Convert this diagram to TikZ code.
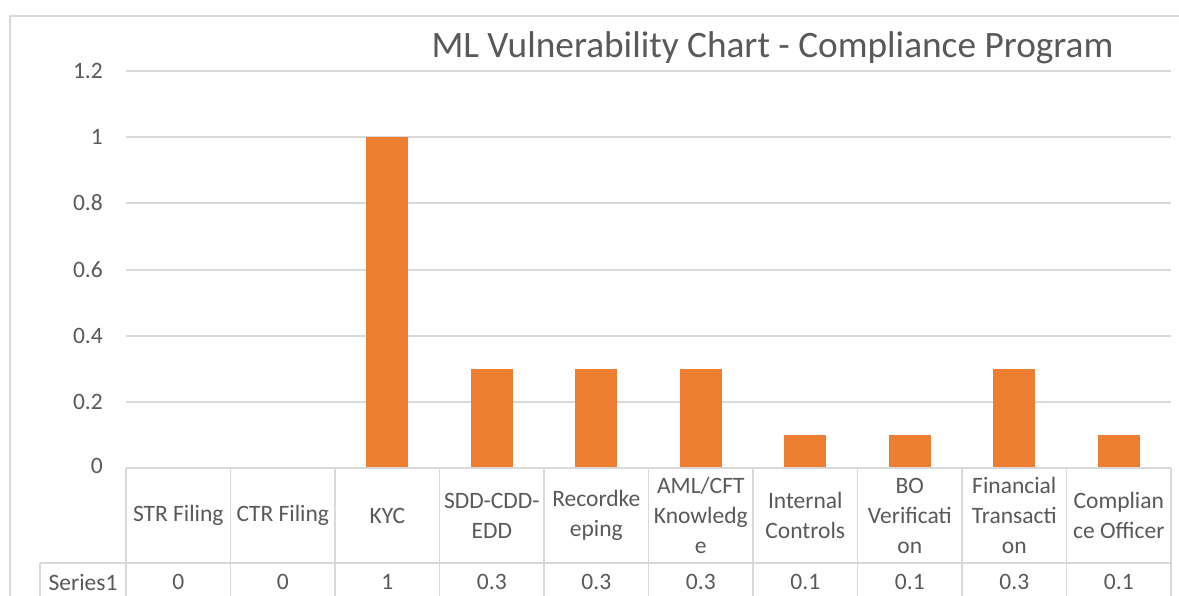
\documentclass[tikz,border=0pt]{standalone}
\usepackage{fontspec}
\setmainfont{Carlito}
\definecolor{gridc}{HTML}{D9D9D9}
\definecolor{txtc}{HTML}{595959}
\definecolor{barc}{HTML}{ED7D31}
\begin{document}
\begin{tikzpicture}[x=1pt,y=-1pt,
  gridline/.style={draw=gridc,line width=1.2pt},
  frameline/.style={draw=gridc,line width=1.6pt},
  ylab/.style={anchor=east,text=txtc,font=\fontsize{23.5}{29.5}\selectfont,inner sep=0pt},
  cell/.style={anchor=center,align=center,text=txtc,font=\fontsize{23.5}{30}\selectfont,inner sep=0pt},
  bar/.style={fill=barc,draw=none,anchor=south,minimum width=42pt,inner sep=0pt,outer sep=0pt},
  titlestyle/.style={text=txtc,font=\fontsize{37.3}{44}\selectfont,inner sep=0pt}]
\useasboundingbox (0,0) rectangle (1179,595);
\clip (0,0) rectangle (1179,595);
\fill[white] (0,0) rectangle (1179,595);
% chart frame
\draw[frameline] (10,620) -- (10,16) -- (1190,16);
% title
\node[titlestyle,anchor=base] (title) at (772.5,57.5) {ML Vulnerability Chart - Compliance Program};
% gridlines and labels
\foreach \v/\y/\n in {1.2/71/g6,1/137/g5,0.8/203/g4,0.6/270/g3,0.4/336/g2,0.2/402/g1}{
  \draw[gridline] (126,\y) -- (1171,\y);
  \node[ylab] (\n) at (103,\y) {\v};
}
\node[ylab] (g0) at (103,466) {0};
% bars
\node[bar,minimum height=331pt] (b3) at (387.3,468) {};
\node[bar,minimum height=99.3pt] (b4) at (491.8,468) {};
\node[bar,minimum height=99.3pt] (b5) at (596.3,468) {};
\node[bar,minimum height=99.3pt] (b6) at (700.8,468) {};
\node[bar,minimum height=33.1pt] (b7) at (805.3,468) {};
\node[bar,minimum height=33.1pt] (b8) at (909.8,468) {};
\node[bar,minimum height=99.3pt] (b9) at (1014.3,468) {};
\node[bar,minimum height=33.1pt] (b10) at (1118.8,468) {};
% table
\draw[gridline] (126,468) -- (1171,468);
\draw[gridline] (40,563) -- (1171,563);
\draw[gridline] (40,563) -- (40,620);
\foreach \x in {126,230.5,335,439.5,544,648.5,753,857.5,962,1066.5,1171}{
  \draw[gridline] (\x,468) -- (\x,620);
}
% header cells
\node[cell] (h1) at (178.3,515.5) {STR Filing};
\node[cell] (h2) at (282.8,515.5) {CTR Filing};
\node[cell] (h3) at (387.3,515.5) {KYC};
\node[cell] (h4) at (491.8,515.5) {SDD-CDD-\\EDD};
\node[cell] (h5) at (596.3,515.5) {Recordke\\eping};
\node[cell] (h6) at (700.8,515.5) {AML/CFT\\Knowledg\\e};
\node[cell] (h7) at (805.3,515.5) {Internal\\Controls};
\node[cell] (h8) at (909.8,515.5) {BO\\Verificati\\on};
\node[cell] (h9) at (1014.3,515.5) {Financial\\Transacti\\on};
\node[cell] (h10) at (1118.8,515.5) {Complian\\ce Officer};
% series row
\node[cell] (s0) at (83,582) {Series1};
\foreach \c/\v in {178.3/0,282.8/0,387.3/1,491.8/0.3,596.3/0.3,700.8/0.3,805.3/0.1,909.8/0.1,1014.3/0.3,1118.8/0.1}{
  \node[cell] at (\c,582) {\v};
}
\end{tikzpicture}
\end{document}
